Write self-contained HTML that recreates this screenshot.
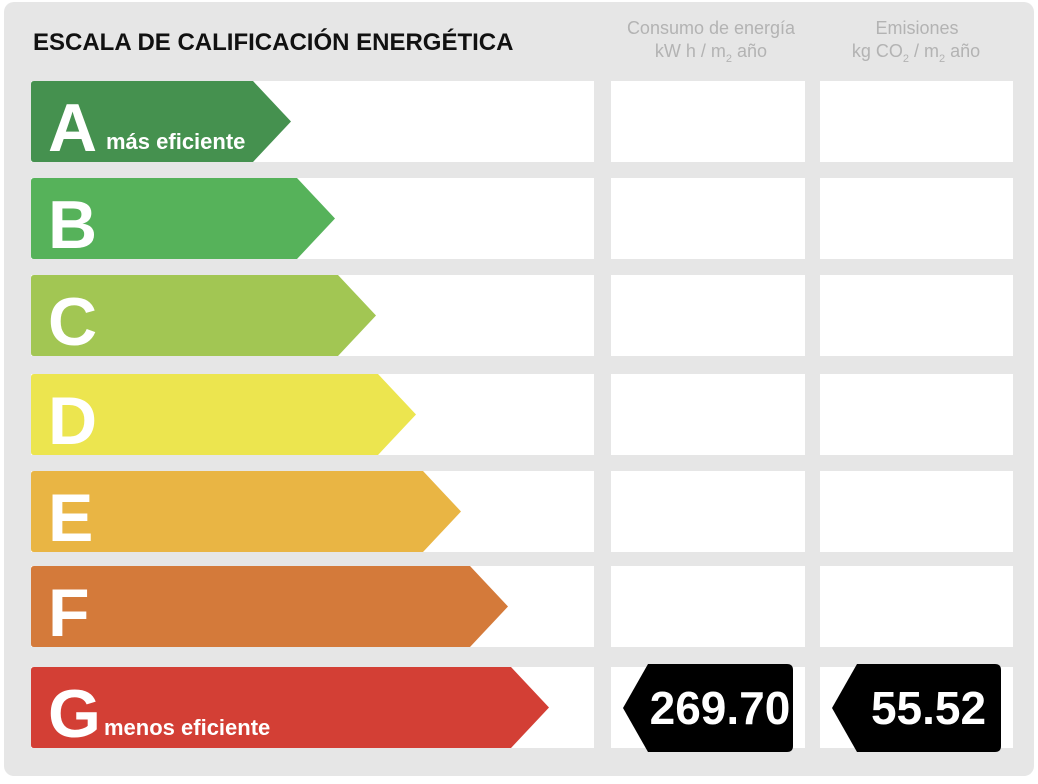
<!DOCTYPE html>
<html><head><meta charset="utf-8"><style>
html,body{margin:0;padding:0;background:#fff;}
svg{display:block;font-family:"Liberation Sans",Arial,sans-serif;}
</style></head><body>
<svg id="chart" width="1038" height="784" viewBox="0 0 1038 784">
<rect x="4" y="2" width="1030" height="774" rx="10" fill="#e6e6e6"/>
<text x="33" y="50" font-size="24" font-weight="bold" fill="#111">ESCALA DE CALIFICACIÓN ENERGÉTICA</text>
<text x="711" y="34" font-size="18" fill="#b3b3b3" text-anchor="middle">Consumo de energía</text>
<text x="711" y="57" font-size="18" fill="#b3b3b3" text-anchor="middle">kW h / m<tspan font-size="11" dy="5">2</tspan><tspan dy="-5"> año</tspan></text>
<text x="917" y="34" font-size="18" fill="#b3b3b3" text-anchor="middle">Emisiones</text>
<text x="916" y="57" font-size="18" fill="#b3b3b3" text-anchor="middle">kg CO<tspan font-size="11" dy="5">2</tspan><tspan dy="-5"> / m</tspan><tspan font-size="11" dy="5">2</tspan><tspan dy="-5"> año</tspan></text>
<g id="rows"></g>
</svg>
<script>
const letters = ["A","B","C","D","E","F","G"];
const colors = ["#45914f","#56b25a","#a2c653","#ece54f","#e9b544","#d47a3a","#d33f35"];
const barEnds = [291,335,376,416,461,508,549];
const rowTops = [81,178,275,374,471,566,667];
const subtitles = {"A":"más eficiente","G":"menos eficiente"};
const ratedClass = "G";
const energyValue = "269.70";
const emissionsValue = "55.52";

const NS = "http://www.w3.org/2000/svg";
const g = document.getElementById("rows");
function mk(tag, attrs){const e=document.createElementNS(NS,tag);for(const k in attrs)e.setAttribute(k,attrs[k]);return e;}
const H = 81;
letters.forEach((L,i)=>{
  const y = rowTops[i];
  const bg = mk("rect",{x:31,y:y,width:563,height:H,fill:"#fff"});
  
  
  g.appendChild(bg);
  const c1 = mk("rect",{x:611,y:y,width:194,height:H,fill:"#fff"});
  
  
  g.appendChild(c1);
  const c2 = mk("rect",{x:820,y:y,width:193,height:H,fill:"#fff"});
  
  
  g.appendChild(c2);
  const tip = barEnds[i], body = tip-38;
  const arrow = mk("path",{d:`M34 ${y} L${body} ${y} L${tip} ${y+H/2} L${body} ${y+H} L34 ${y+H} Q31 ${y+H} 31 ${y+H-3} L31 ${y+3} Q31 ${y} 34 ${y} Z`,fill:colors[i]});
  
  
  g.appendChild(arrow);
  const t = mk("text",{x:48,y:y+70,"font-size":68,"font-weight":"bold",fill:"#fff"});
  t.textContent = L;
  
  
  g.appendChild(t);
  if(subtitles[L]){
    const s = mk("text",{x:L==="A"?106:104,y:y+68,"font-size":22,"font-weight":"bold",fill:"#fff"});
    s.textContent = subtitles[L];
    
    
    g.appendChild(s);
  }
  if(L===ratedClass){
    [[623,793,energyValue,'energy-value-badge'],[832,1001,emissionsValue,'emissions-value-badge']].forEach(([x0,x1,val,name])=>{
      const yt=y-3, yb=y+H+4, ym=(yt+yb)/2;
      const b = mk("path",{d:`M${x0+25} ${yt} L${x1-6} ${yt} Q${x1} ${yt} ${x1} ${yt+6} L${x1} ${yb-6} Q${x1} ${yb} ${x1-6} ${yb} L${x0+25} ${yb} L${x0} ${ym} Z`,fill:"#000"});
      
      
      g.appendChild(b);
      const vt = mk("text",{x:(x0+x1)/2+12,y:ym+16,"font-size":46,"font-weight":"bold",fill:"#fff","text-anchor":"middle"});
      vt.textContent = val;
      
      
      g.appendChild(vt);
    });
  }
});
</script>
</body></html>
